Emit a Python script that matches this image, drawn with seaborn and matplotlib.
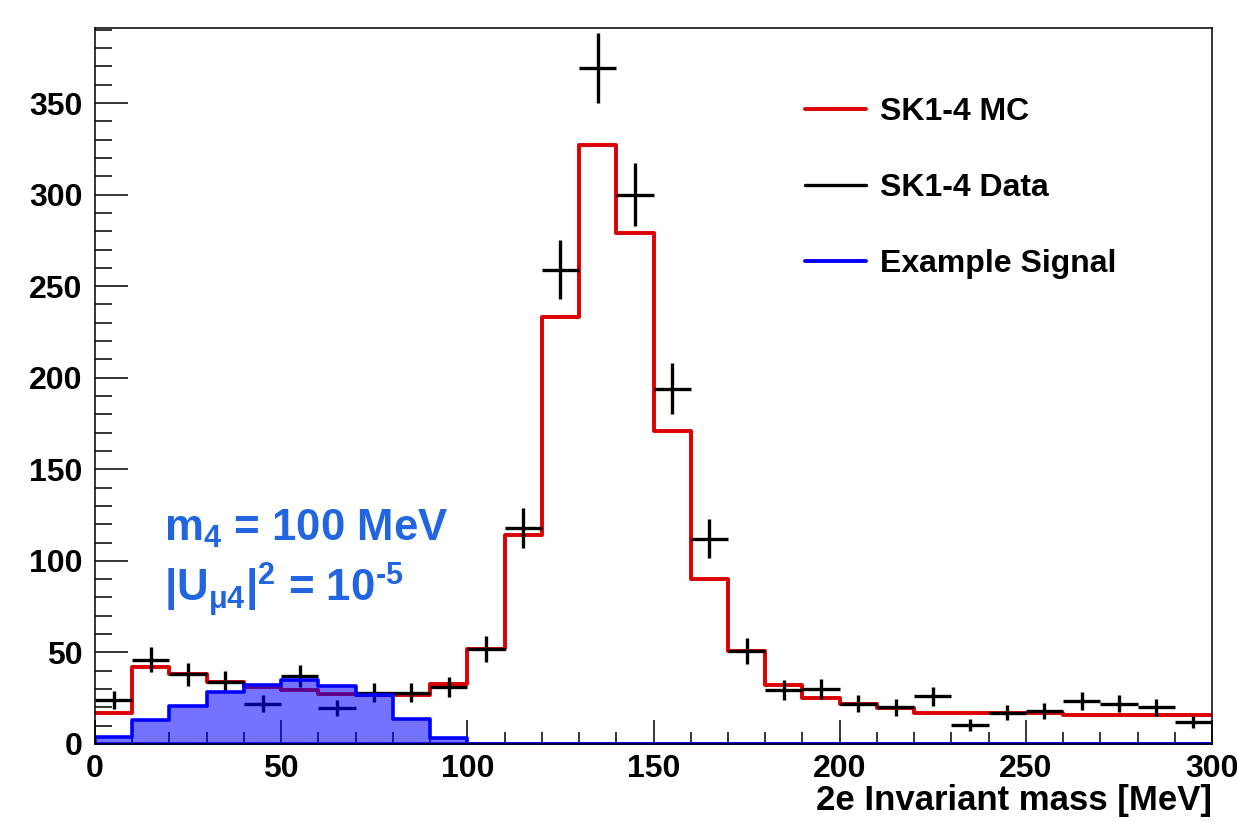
# 2e invariant mass: SK1-4 MC vs data, with an example heavy-neutrino signal
import numpy as np
import matplotlib.pyplot as plt
import seaborn as sns
from matplotlib.lines import Line2D
from matplotlib.ticker import MultipleLocator

# Binning (10 MeV bins from 0 to 300 MeV)
bin_edges = list(range(0, 310, 10))
bin_centers = [e + 5 for e in bin_edges[:-1]]

# MC expectation per bin
mc_counts = [17, 42, 38, 34, 31, 29.5, 27.5, 27, 27, 33,
             52, 114, 233, 327, 279, 171, 90, 51, 32, 25,
             22, 19.5, 17, 17, 17, 17, 16, 16, 16, 16]

# Data per bin and its error
data_counts = [24, 46, 38, 34, 22, 37, 19.5, 28, 28, 31,
               52, 118, 259, 369, 300, 194, 112, 51, 29.5, 30,
               22, 20, 26, 10.5, 17, 18, 23.5, 22, 20, 12]
data_errors = [4.9, 6.8, 6.2, 5.8, 4.7, 6.1, 4.4, 5.3, 5.3, 5.6,
               7.2, 10.9, 16.1, 19.2, 17.3, 13.9, 10.6, 7.1, 5.4, 5.5,
               4.7, 4.5, 5.1, 3.2, 4.1, 4.2, 4.8, 4.7, 4.5, 3.5]

# Example signal (m4 = 100 MeV, |U_mu4|^2 = 1e-5)
signal_counts = [4, 13, 21, 28.5, 32, 35, 31.5, 27, 13.5, 3.5,
                 0, 0, 0, 0, 0, 0, 0, 0, 0, 0,
                 0, 0, 0, 0, 0, 0, 0, 0, 0, 0]

legend_labels = ["SK1-4 MC", "SK1-4 Data", "Example Signal"]

sns.set_theme(style="ticks")
plt.rcParams["font.family"] = ["Liberation Sans", "DejaVu Sans"]
plt.rcParams["font.weight"] = "bold"
plt.rcParams["text.color"] = "black"
plt.rcParams["axes.labelcolor"] = "black"
plt.rcParams["mathtext.fontset"] = "custom"
plt.rcParams["mathtext.rm"] = "Liberation Sans:bold"
plt.rcParams["mathtext.bf"] = "Liberation Sans:bold"
plt.rcParams["mathtext.it"] = "Liberation Sans:bold"
plt.rcParams["mathtext.default"] = "rm"

fig = plt.figure(figsize=(12.37, 8.22), dpi=100)
ax = fig.add_axes([0.0768, 0.0949, 0.9030, 0.8711])

# MC: red step outline
sns.histplot(x=bin_centers, weights=mc_counts, bins=bin_edges, element="step",
             fill=False, color="#dd0000", linewidth=2.8, ax=ax, zorder=3)

# Data with error bars
ax.errorbar(bin_centers, data_counts, xerr=5, yerr=data_errors, fmt="none",
            ecolor="black", elinewidth=2.4, capsize=0, zorder=4)

# Signal: filled step histogram drawn on top (semi-transparent like the ROOT pattern)
sns.histplot(x=bin_centers, weights=signal_counts, bins=bin_edges, element="step",
             fill=True, color="#0000ff", facecolor=(0.0, 0.0, 1.0, 0.55), alpha=None,
             edgecolor="#0000ff", linewidth=2.6, ax=ax, zorder=5)

ax.set_xlim(0, 300)
ax.set_ylim(0, 391)

ax.xaxis.set_major_locator(MultipleLocator(50))
ax.xaxis.set_minor_locator(MultipleLocator(10))
ax.yaxis.set_major_locator(MultipleLocator(50))
ax.yaxis.set_minor_locator(MultipleLocator(10))
ax.tick_params(axis="both", which="both", direction="in", top=False, right=False,
               labelsize=23, colors="black", width=1.1)
ax.tick_params(axis="y", which="major", length=24, pad=9)
ax.tick_params(axis="y", which="minor", length=12)
ax.tick_params(axis="x", which="major", length=17, pad=7)
ax.tick_params(axis="x", which="minor", length=8.5)
for lab in ax.get_xticklabels() + ax.get_yticklabels():
    lab.set_fontweight("bold")

for sp in ax.spines.values():
    sp.set_color("black")
    sp.set_linewidth(1.1)
    sp.set_zorder(6)

ax.set_ylabel("")
ax.set_xlabel("2e Invariant mass [MeV]", fontsize=25, fontweight="bold",
              color="black", loc="right", labelpad=0)

# Signal parameter annotation
ax.text(18.5, 111, "m$_4$ = 100 MeV", color="#2165e0", fontsize=31.5,
        fontweight="bold", va="baseline", ha="left")
ax.text(18.5, 78, r"|U$_{μ4}$|$^2$ = 10$^{\text{-5}}$", color="#2165e0", fontsize=31.5,
        fontweight="bold", va="baseline", ha="left")

handles = [Line2D([0], [0], color="#dd0000", lw=2.8),
           Line2D([0], [0], color="black", lw=2.4),
           Line2D([0], [0], color="#0000ff", lw=2.8)]
ax.legend(handles, legend_labels, loc="upper left", bbox_to_anchor=(0.636, 0.904),
          frameon=False, fontsize=23, handlelength=1.9, handletextpad=0.44,
          labelspacing=1.44, borderpad=0, borderaxespad=0, labelcolor="black")

fig.savefig("out.png", dpi=100)
plt.close(fig)
